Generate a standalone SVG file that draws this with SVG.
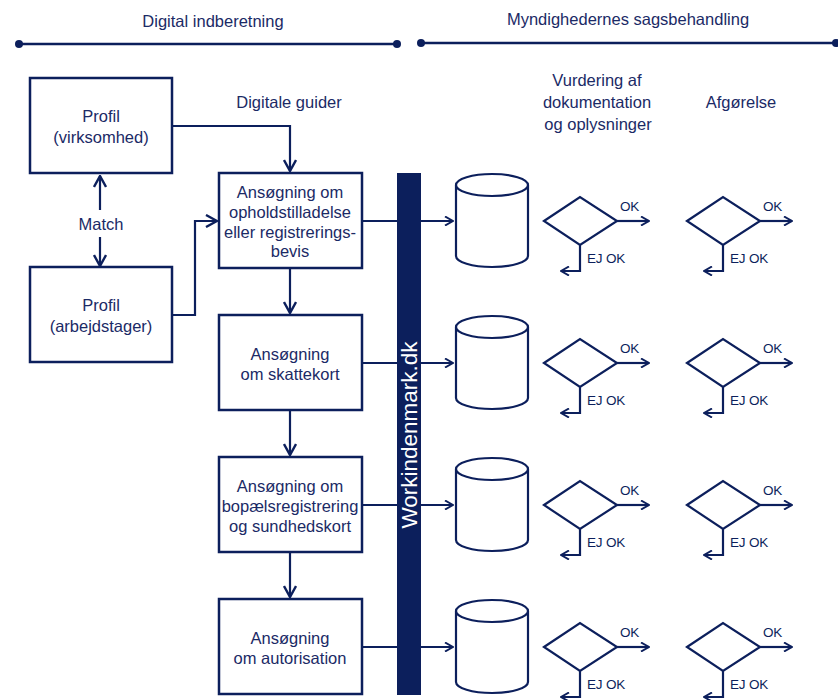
<svg xmlns="http://www.w3.org/2000/svg" width="838" height="700" viewBox="0 0 838 700">
<style>
.t{font-family:"Liberation Sans",Arial,sans-serif;font-size:16.5px;fill:#1b2a66;text-anchor:middle}
.s{font-family:"Liberation Sans",Arial,sans-serif;font-size:13.5px;fill:#0c1f5c;letter-spacing:-0.2px}
.box{fill:#fff;stroke:#0c1f5c;stroke-width:2.5}
.ln{fill:none;stroke:#0c1f5c;stroke-width:2.2}
.sh{fill:#fff;stroke:#0c1f5c;stroke-width:2.2}
</style>
<defs>
<marker id="ah" viewBox="0 0 10 10" refX="9" refY="5" markerWidth="10" markerHeight="10" markerUnits="userSpaceOnUse" orient="auto">
<path d="M1,0.5 L9,5 L1,9.5" fill="none" stroke="#0c1f5c" stroke-width="2"/>
</marker>
<marker id="ah2" viewBox="0 0 14 14" refX="13" refY="7" markerWidth="14" markerHeight="14" markerUnits="userSpaceOnUse" orient="auto">
<path d="M2,1 L13,7 L2,13" fill="none" stroke="#0c1f5c" stroke-width="2.4"/>
</marker>
</defs>

<g id="headers">
<text class="t" x="213" y="27">Digital indberetning</text>
<line x1="18" y1="44" x2="397" y2="44" stroke="#0c1f5c" stroke-width="2.5"/>
<circle cx="19" cy="44" r="4" fill="#0c1f5c"/>
<circle cx="397" cy="44" r="4" fill="#0c1f5c"/>
<text class="t" x="628" y="25">Myndighedernes sagsbehandling</text>
<line x1="421" y1="43" x2="836" y2="43" stroke="#0c1f5c" stroke-width="2.5"/>
<circle cx="421" cy="43" r="4" fill="#0c1f5c"/>
<circle cx="836" cy="43" r="4" fill="#0c1f5c"/>
<text class="t" x="289" y="108">Digitale guider</text>
<text class="t" x="597" y="86">Vurdering af</text>
<text class="t" x="597" y="108">dokumentation</text>
<text class="t" x="598" y="130">og oplysninger</text>
<text class="t" x="741" y="108">Afgørelse</text>
</g>

<g id="profil-virksomhed">
<rect class="box" x="30" y="78" width="142" height="95"/>
<text class="t" x="101" y="122">Profil</text>
<text class="t" x="101" y="143">(virksomhed)</text>
</g>
<g id="profil-arbejdstager">
<rect class="box" x="30" y="267" width="142" height="95"/>
<text class="t" x="101" y="311">Profil</text>
<text class="t" x="101" y="332">(arbejdstager)</text>
</g>
<g id="match">
<text class="t" x="101" y="230">Match</text>
</g>

<g id="box1">
<rect class="box" x="219" y="173" width="143" height="95"/>
<text class="t" x="290" y="198">Ansøgning om</text>
<text class="t" x="290" y="218">opholdstilladelse</text>
<text class="t" x="290" y="238">eller registrerings-</text>
<text class="t" x="290" y="257">bevis</text>
</g>
<g id="box2">
<rect class="box" x="219" y="315" width="143" height="95"/>
<text class="t" x="290" y="360">Ansøgning</text>
<text class="t" x="290" y="380">om skattekort</text>
</g>
<g id="box3">
<rect class="box" x="219" y="457" width="143" height="95"/>
<text class="t" x="290" y="492">Ansøgning om</text>
<text class="t" x="290" y="512">bopælsregistrering</text>
<text class="t" x="290" y="532">og sundhedskort</text>
</g>
<g id="box4">
<rect class="box" x="219" y="599" width="143" height="95"/>
<text class="t" x="290" y="644">Ansøgning</text>
<text class="t" x="290" y="664">om autorisation</text>
</g>

<g id="connectors">
<line class="ln" x1="100" y1="210" x2="100" y2="176" marker-end="url(#ah2)"/>
<line class="ln" x1="100" y1="237" x2="100" y2="266" marker-end="url(#ah2)"/>
<polyline class="ln" points="172,126 290,126 290,171" marker-end="url(#ah2)"/>
<polyline class="ln" points="172,315 195,315 195,221 217,221" marker-end="url(#ah2)"/>
<line class="ln" x1="290" y1="268" x2="290" y2="313" marker-end="url(#ah2)"/>
<line class="ln" x1="290" y1="410" x2="290" y2="455" marker-end="url(#ah2)"/>
<line class="ln" x1="290" y1="552" x2="290" y2="597" marker-end="url(#ah2)"/>
<line class="ln" x1="362" y1="221" x2="453" y2="221" marker-end="url(#ah)"/>
<line class="ln" x1="362" y1="363" x2="453" y2="363" marker-end="url(#ah)"/>
<line class="ln" x1="362" y1="505" x2="453" y2="505" marker-end="url(#ah)"/>
<line class="ln" x1="362" y1="647" x2="453" y2="647" marker-end="url(#ah)"/>
</g>

<g id="workindenmark">
<rect x="397" y="173" width="24" height="522" fill="#0c1f5c"/>
<text x="409" y="435" transform="rotate(-90 409 435)" style="font-family:'Liberation Sans',Arial,sans-serif;font-size:22.5px;fill:#fff;text-anchor:middle;dominant-baseline:central">Workindenmark.dk</text>
</g>

<g id="row1" transform="translate(0,0)">
<path class="sh" d="M456,185 L456,256 A36,11 0 0 0 528,256 L528,185"/>
<ellipse class="sh" cx="492" cy="185" rx="36" ry="11"/>
<polygon class="sh" points="544,221 580,197 617,221 580,245"/>
<line class="ln" x1="617" y1="221" x2="649" y2="221" marker-end="url(#ah)"/>
<text class="s" x="620" y="211">OK</text>
<polyline class="ln" points="580,245 580,271 561,271" marker-end="url(#ah)"/>
<text class="s" x="587" y="263">EJ OK</text>
<polygon class="sh" points="687,221 723,197 760,221 723,245"/>
<line class="ln" x1="760" y1="221" x2="792" y2="221" marker-end="url(#ah)"/>
<text class="s" x="763" y="211">OK</text>
<polyline class="ln" points="723,245 723,271 704,271" marker-end="url(#ah)"/>
<text class="s" x="730" y="263">EJ OK</text>
</g>
<g id="row2" transform="translate(0,142)">
<path class="sh" d="M456,185 L456,256 A36,11 0 0 0 528,256 L528,185"/>
<ellipse class="sh" cx="492" cy="185" rx="36" ry="11"/>
<polygon class="sh" points="544,221 580,197 617,221 580,245"/>
<line class="ln" x1="617" y1="221" x2="649" y2="221" marker-end="url(#ah)"/>
<text class="s" x="620" y="211">OK</text>
<polyline class="ln" points="580,245 580,271 561,271" marker-end="url(#ah)"/>
<text class="s" x="587" y="263">EJ OK</text>
<polygon class="sh" points="687,221 723,197 760,221 723,245"/>
<line class="ln" x1="760" y1="221" x2="792" y2="221" marker-end="url(#ah)"/>
<text class="s" x="763" y="211">OK</text>
<polyline class="ln" points="723,245 723,271 704,271" marker-end="url(#ah)"/>
<text class="s" x="730" y="263">EJ OK</text>
</g>
<g id="row3" transform="translate(0,284)">
<path class="sh" d="M456,185 L456,256 A36,11 0 0 0 528,256 L528,185"/>
<ellipse class="sh" cx="492" cy="185" rx="36" ry="11"/>
<polygon class="sh" points="544,221 580,197 617,221 580,245"/>
<line class="ln" x1="617" y1="221" x2="649" y2="221" marker-end="url(#ah)"/>
<text class="s" x="620" y="211">OK</text>
<polyline class="ln" points="580,245 580,271 561,271" marker-end="url(#ah)"/>
<text class="s" x="587" y="263">EJ OK</text>
<polygon class="sh" points="687,221 723,197 760,221 723,245"/>
<line class="ln" x1="760" y1="221" x2="792" y2="221" marker-end="url(#ah)"/>
<text class="s" x="763" y="211">OK</text>
<polyline class="ln" points="723,245 723,271 704,271" marker-end="url(#ah)"/>
<text class="s" x="730" y="263">EJ OK</text>
</g>
<g id="row4" transform="translate(0,426)">
<path class="sh" d="M456,185 L456,256 A36,11 0 0 0 528,256 L528,185"/>
<ellipse class="sh" cx="492" cy="185" rx="36" ry="11"/>
<polygon class="sh" points="544,221 580,197 617,221 580,245"/>
<line class="ln" x1="617" y1="221" x2="649" y2="221" marker-end="url(#ah)"/>
<text class="s" x="620" y="211">OK</text>
<polyline class="ln" points="580,245 580,271 561,271" marker-end="url(#ah)"/>
<text class="s" x="587" y="263">EJ OK</text>
<polygon class="sh" points="687,221 723,197 760,221 723,245"/>
<line class="ln" x1="760" y1="221" x2="792" y2="221" marker-end="url(#ah)"/>
<text class="s" x="763" y="211">OK</text>
<polyline class="ln" points="723,245 723,271 704,271" marker-end="url(#ah)"/>
<text class="s" x="730" y="263">EJ OK</text>
</g>
</svg>
